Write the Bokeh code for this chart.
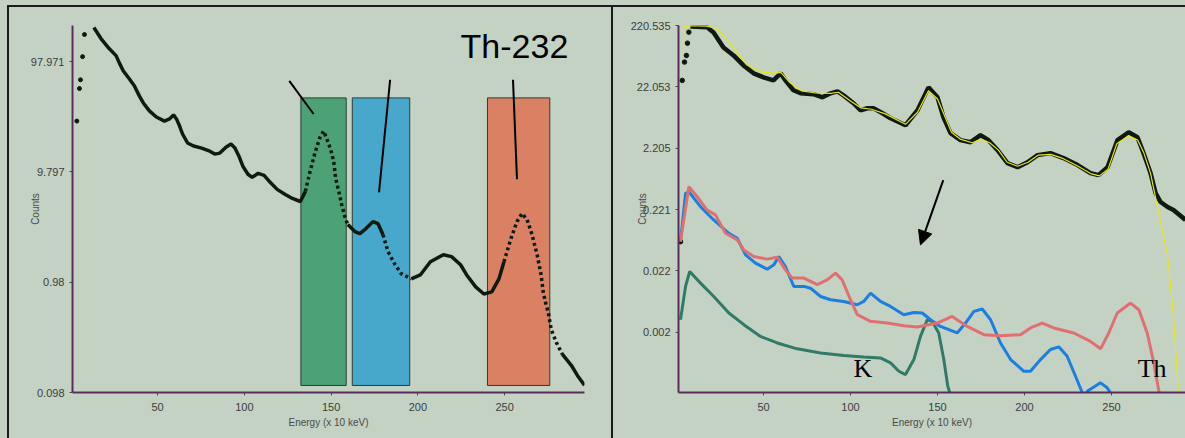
import numpy as np
from bokeh.plotting import figure
from bokeh.layouts import row
from bokeh.models import Range1d, FixedTicker, Arrow, NormalHead, Label
from bokeh.embed import file_html
from bokeh.resources import INLINE

# ---------------- data: left panel ----------------
left_start_energy = [3.5, 5.0, 5.6, 6.8, 7.9]
left_start_counts = [28.3, 55.8, 67.0, 108.6, 172.3]

left_energy = [13.3, 17.4, 22.1, 26.1, 27.9, 30.2, 33.7, 36.6, 39.5, 41.8, 45.3, 49.3,
               54.0, 56.9, 59.2, 60.9, 62.7, 64.4, 67.3, 70.8, 75.4, 80.1, 83.0, 85.9,
               89.4, 92.3, 94.6, 96.9, 99.2, 102.1, 104.5, 108.0, 111.4, 114.9, 118.9,
               123.6, 127.7, 132.3, 135.2, 137.6, 140.5, 143.4, 145.7, 148.0, 149.7,
               151.5, 152.6, 154.4, 156.1, 157.9, 159.6, 163.7, 166.6, 170.1, 174.1,
               177.0, 179.9, 182.8, 186.9, 190.4, 196.2, 201.4, 207.2, 214.7, 219.4,
               224.6, 228.1, 233.3, 238.0, 242.6, 246.7, 249.6, 253.6, 257.1, 260.0,
               262.9, 265.8, 268.7, 271.0, 272.2, 273.9, 275.1, 276.8, 279.7, 283.2,
               288.4, 291.9, 296.0]
left_counts = [199.6, 158.4, 128.5, 110.9, 95.8, 81.0, 68.4, 59.1, 47.9, 41.3, 35.0, 30.8,
               28.3, 29.6, 32.2, 29.6, 25.5, 21.6, 17.9, 16.8, 16.1, 15.1, 14.2, 14.5,
               16.4, 17.5, 16.1, 13.6, 11.0, 9.32, 8.75, 9.51, 9.12, 7.88, 6.80,
               6.12, 5.63, 5.28, 6.52, 9.51, 14.2, 19.8, 23.0, 18.6, 15.7,
               12.2, 8.57, 6.52, 4.96, 3.86, 3.26, 2.82, 2.70, 3.00, 3.47,
               3.33, 2.64, 1.85, 1.41, 1.17, 1.05, 1.14, 1.50, 1.74, 1.67,
               1.41, 1.14, 0.888, 0.766, 0.80, 1.05, 1.50, 2.43, 3.47, 4.11,
               3.62, 2.64, 1.74, 1.14, 0.80, 0.608, 0.525, 0.367, 0.280, 0.218,
               0.173, 0.140, 0.114]

left_yticks = [0.098, 0.98, 9.797, 97.971]
left_ylabels = ["0.098", "0.98", "9.797", "97.971"]
x_ticks = [50, 100, 150, 200, 250]

window_names = ["K", "U", "Th"]
window_left = [132.6, 162.2, 240.1]
window_right = [158.7, 195.3, 276.0]
window_bottom = [0.1135, 0.1135, 0.1135]
window_top = [45.9, 45.9, 45.9]
window_colors = ["#3f9c6c", "#3aa3cc", "#dc7858"]

pointer_x0 = [125.9, 184.0, 254.8]
pointer_y0 = [65.6, 67.0, 67.0]
pointer_x1 = [139.9, 177.6, 257.1]
pointer_y1 = [32.8, 6.39, 8.39]

# ---------------- data: right panel ----------------
right_start_energy = [2.3, 3.3, 4.6, 5.7, 6.3, 7.1]
right_start_counts = [0.066, 28.1, 55.8, 71.7, 113.6, 171.7]

right_energy = [8.0, 17.6, 21.3, 27.0, 32.8, 38.5, 44.3, 50.0, 55.7, 59.8, 62.6, 67.2,
                71.3, 78.7, 83.9, 88.5, 92.5, 96.0, 101.7, 105.7, 109.8, 113.2, 118.4,
                123.0, 131.6, 138.5, 144.8, 150.0, 153.4, 157.5, 163.2, 169.0, 174.7,
                179.3, 184.5, 190.2, 196.0, 201.7, 207.5, 214.9, 222.4, 230.5, 237.9,
                242.5, 247.7, 253.4, 259.8, 264.9, 268.4, 272.4, 275.3, 278.2, 282.2,
                285.6, 292.5]
right_counts = [212.4, 207.0, 169.7, 96.7, 71.7, 49.3, 36.6, 31.5, 28.1, 36.6, 28.1, 19.4,
                17.3, 16.7, 14.9, 17.3, 18.6, 16.0, 11.9, 9.15, 9.86, 9.86, 8.18,
                6.78, 5.22, 9.15, 21.6, 14.9, 7.04, 3.87, 2.98, 2.76, 3.59,
                2.98, 2.05, 1.26, 1.08, 1.30, 1.70, 1.83, 1.52, 1.17, 0.865,
                0.802, 1.08, 2.98, 4.01, 3.33, 1.83, 0.865, 0.409, 0.292, 0.242,
                0.216, 0.149]

fit_energy = [3.9, 4.2, 8.0, 17.6, 23.4, 30.0, 40.6, 50.0, 57.0, 60.0, 65.0, 72.0, 80.0,
              88.5, 93.0, 100.0, 106.0, 112.0, 120.0, 131.6, 138.5, 144.8, 150.0, 154.0,
              158.0, 163.0, 170.0, 175.0, 180.0, 185.0, 190.0, 196.0, 202.0, 208.0,
              215.0, 222.0, 230.0, 238.0, 243.0, 248.0, 253.0, 259.8, 265.0, 268.4,
              272.4, 277.0, 282.2, 285.6, 288.5]
fit_counts = [80.0, 207.0, 220.0, 215.0, 195.0, 120.0, 50.0, 38.0, 37.0, 38.0, 26.0, 19.0,
              17.5, 17.3, 18.0, 13.0, 10.0, 9.5, 8.0, 5.4, 8.5, 19.0, 14.0, 7.5,
              4.0, 3.1, 2.7, 3.1, 2.7, 2.05, 1.3, 1.12, 1.3, 1.7,
              1.75, 1.5, 1.15, 0.85, 0.78, 1.0, 2.6, 3.5, 3.0, 1.9,
              0.865, 0.2, 0.04, 0.004, 0.00022]

th_energy = [2.3, 7.1, 11.9, 17.6, 22.4, 28.2, 34.9, 38.7, 44.4, 52.1, 57.9, 62.6, 66.5,
             73.2, 80.9, 86.6, 91.4, 95.2, 100.0, 103.9, 111.5, 121.1, 130.6, 138.3,
             145.0, 149.8, 158.4, 167.1, 176.6, 186.2, 197.7, 203.4, 210.2, 216.8,
             228.3, 237.9, 243.7, 248.4, 253.3, 260.9, 265.7, 270.5, 274.3, 277.2, 278.5]
th_counts = [0.066, 0.518, 0.356, 0.216, 0.180, 0.0904, 0.0704, 0.0484, 0.0377, 0.0342,
             0.0368, 0.0229, 0.0168, 0.0168, 0.0131, 0.0157, 0.0202, 0.0157, 0.00744,
             0.00425, 0.00331, 0.00311, 0.00281, 0.00268, 0.00292, 0.00311, 0.00399,
             0.00274, 0.00201, 0.00193, 0.00201, 0.00258, 0.00311, 0.00258, 0.00214,
             0.00156, 0.00118, 0.00214, 0.00453, 0.00658, 0.00512, 0.00214, 0.000696,
             0.000240, 0.0001]

u_energy = [2.3, 5.2, 7.1, 13.8, 21.4, 30.1, 34.9, 39.7, 45.4, 52.1, 55.9, 58.8, 62.6,
            67.4, 73.2, 77.0, 82.8, 88.5, 96.1, 103.9, 107.6, 111.5, 117.2, 123.0, 130.6,
            136.4, 141.2, 146.0, 151.7, 161.3, 166.1, 170.9, 175.7, 180.5, 186.2, 192.0,
            199.6, 203.4, 209.2, 214.9, 219.7, 224.5, 229.3, 233.2, 234.3, 236.0, 243.7,
            247.5, 249.4, 250.6]
u_counts = [0.066, 0.404, 0.429, 0.245, 0.149, 0.0904, 0.0750, 0.0401, 0.0294, 0.0235,
            0.0276, 0.0377, 0.0259, 0.0123, 0.0123, 0.0115, 0.00842, 0.00744, 0.00699,
            0.00618, 0.00699, 0.00957, 0.00699, 0.00580, 0.00425, 0.00463, 0.00453,
            0.00352, 0.00274, 0.00214, 0.00311, 0.00481, 0.00526, 0.00352, 0.00147,
            0.000788, 0.000508, 0.000508, 0.000788, 0.00115, 0.00127, 0.000892, 0.000421,
            0.000226, 0.00015, 0.000240, 0.000329, 0.000273, 0.000226, 0.00015]

k_energy = [2.3, 5.2, 7.6, 13.8, 21.4, 30.1, 38.7, 48.3, 57.9, 69.4, 82.8, 96.1, 107.6,
            117.2, 123.0, 127.8, 131.6, 136.4, 140.2, 144.1, 146.9, 150.7, 153.6, 155.9,
            157.1, 158.0]
k_counts = [0.00352, 0.0123, 0.0215, 0.0139, 0.00842, 0.00453, 0.00292, 0.00188, 0.00147,
            0.00118, 0.00101, 0.000915, 0.000872, 0.000839, 0.000696, 0.000508, 0.000449,
            0.000788, 0.00188, 0.00352, 0.00331, 0.00214, 0.000788, 0.000290, 0.000226,
            0.00015]

right_yticks = [0.0022053, 0.022053, 0.2205, 2.205, 22.053, 220.535]
right_ylabels = ["0.002", "0.022", "0.221", "2.205", "22.053", "220.535"]

BG = "#c4d2c4"
AXIS = "#5a2c5e"
FONT = "Liberation Sans"
EDGE = "2px solid #1c1c1c"


def style(p, yticks, ylabels):
    p.background_fill_color = BG
    p.border_fill_color = BG
    p.outline_line_color = None
    p.xgrid.visible = False
    p.ygrid.visible = False
    for ax in (p.xaxis[0], p.yaxis[0]):
        ax.axis_line_color = AXIS
        ax.axis_line_width = 2
        ax.major_tick_line_color = "#4a4a3a"
        ax.major_tick_out = 3
        ax.major_tick_in = 0
        ax.minor_tick_line_color = None
        ax.major_label_text_font = FONT
        ax.major_label_text_font_size = "11px"
        ax.major_label_text_color = "#3c3c3c"
        ax.axis_label_text_font = FONT
        ax.axis_label_text_font_size = "10px"
        ax.axis_label_text_font_style = "normal"
        ax.axis_label_text_color = "#4a4a4a"
    p.xaxis[0].ticker = FixedTicker(ticks=x_ticks)
    p.xaxis[0].major_label_standoff = 7
    p.xaxis[0].axis_label_standoff = 3
    p.xaxis[0].axis_label = "Energy (x 10 keV)"
    p.yaxis[0].ticker = FixedTicker(ticks=yticks)
    p.yaxis[0].major_label_overrides = {t: l for t, l in zip(yticks, ylabels)}
    p.yaxis[0].major_label_standoff = 5
    p.yaxis[0].axis_label = "Counts"


def runs(xs, ranges):
    """split consecutive indices into (start, end, dotted) runs"""
    def is_dot(x):
        return any(a <= x <= b for a, b in ranges)
    out = []
    start = 0
    cur_d = is_dot(xs[0])
    for i in range(1, len(xs)):
        d = is_dot(xs[i])
        if d != cur_d:
            out.append((start, i, cur_d))
            start = i
            cur_d = d
    out.append((start, len(xs) - 1, cur_d))
    return out


# ---------------- left figure ----------------
p1 = figure(width=606, height=433, x_range=Range1d(1, 296), y_range=Range1d(0.098, 208),
            y_axis_type="log", output_backend="svg", toolbar_location=None,
            min_border_left=63, min_border_right=31, min_border_top=18, min_border_bottom=48)
style(p1, left_yticks, left_ylabels)
p1.yaxis[0].axis_label_standoff = -13
p1.styles = {"border-top": EDGE, "border-left": EDGE, "border-right": EDGE}

p1.quad(left=window_left, right=window_right, bottom=window_bottom, top=window_top,
        fill_color=window_colors, fill_alpha=0.9, line_color="#2c3c34", line_width=1)

dot_ranges = [(134, 159), (179, 192), (249, 280)]
for s, e, d in runs(left_energy, dot_ranges):
    xs = left_energy[s:e + 1]
    ys = left_counts[s:e + 1]
    if d:
        p1.line(xs, ys, line_color="#0e1a10", line_width=3.5, line_dash="3 3")
    else:
        p1.line(xs, ys, line_color="#0e1a10", line_width=3.5)
p1.scatter(left_start_energy, left_start_counts, size=4, color="#0e1a10")

p1.segment(x0=pointer_x0, y0=pointer_y0, x1=pointer_x1, y1=pointer_y1,
           line_color="black", line_width=2)
p1.add_layout(Label(x=224.6, y=91.8, text="Th-232", text_font=FONT,
                    text_font_size="34px", text_color="black"))

# ---------------- right figure ----------------
p2 = figure(width=572, height=433, x_range=Range1d(1.15, 292.5), y_range=Range1d(0.000229, 220.535),
            y_axis_type="log", output_backend="svg", toolbar_location=None,
            min_border_left=65, min_border_right=0, min_border_top=18, min_border_bottom=45)
style(p2, right_yticks, right_ylabels)
p2.yaxis[0].axis_label_standoff = -20
p2.styles = {"border-top": EDGE}

p2.line(right_energy, right_counts, line_color="#0e1a10", line_width=4.5)
p2.scatter(right_start_energy, right_start_counts, size=4.5, color="#0e1a10")
p2.line(fit_energy, fit_counts, line_color="#e6e619", line_width=1.2)

p2.line(k_energy, k_counts, line_color="#327a68", line_width=3)
p2.line(u_energy, u_counts, line_color="#1b7ee0", line_width=3)
p2.line(th_energy, th_counts, line_color="#e07070", line_width=3)

p2.add_layout(Arrow(end=NormalHead(size=14, fill_color="black", line_color="black"),
                    x_start=153.3, y_start=0.665, x_end=140.2, y_end=0.0584,
                    line_color="black", line_width=2))
p2.add_layout(Label(x=101.7, y=0.00033, text="K", text_font="Liberation Serif",
                    text_font_size="26px", text_color="black"))
p2.add_layout(Label(x=265.0, y=0.00033, text="Th", text_font="Liberation Serif",
                    text_font_size="26px", text_color="black"))

layout = row(p1, p2)
layout.styles = {"background-color": BG, "padding-left": "7px", "padding-top": "5px"}
open("out.html", "w").write(file_html(layout, INLINE))
